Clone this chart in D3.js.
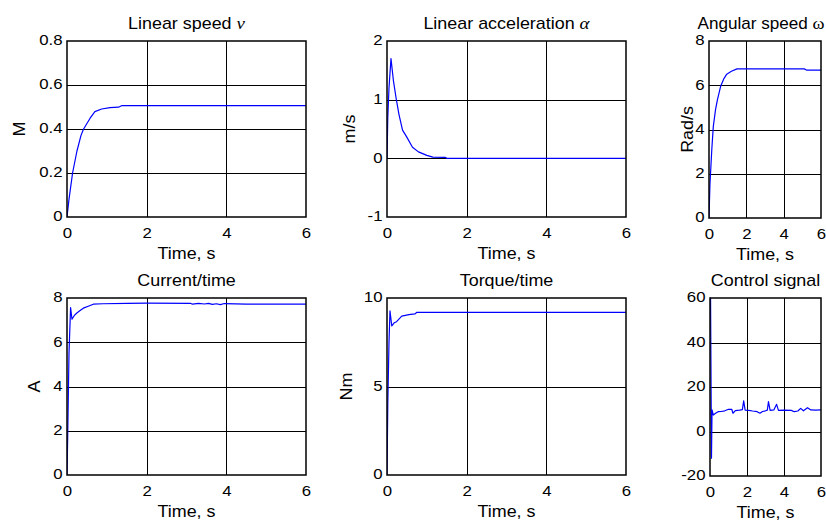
<!DOCTYPE html>
<html>
<head>
<meta charset="utf-8">
<script src="https://cdn.jsdelivr.net/npm/d3@7"></script>
<style>
	body { margin: 0; background: #fff; }
	svg { display: block; font-family: "Liberation Sans", Arial, sans-serif; }
</style>
</head>
<body>
<div id="chart"></div>
<script>
// time axis shared by all panels
const timeTicks = [0, 2, 4, 6];

// linear speed v
const speedT = [0, 0.05, 0.14, 0.25, 0.35, 0.41, 0.5, 0.58, 0.7, 0.87, 1.08, 1.29, 1.37, 6];
const speedV = [0, 0.08, 0.2, 0.3, 0.37, 0.398, 0.425, 0.449, 0.479, 0.491, 0.497, 0.499, 0.506, 0.506];
const speedTicks = [0, 0.2, 0.4, 0.6, 0.8];

// linear acceleration
const accT = [0, 0.02, 0.05, 0.1, 0.16, 0.23, 0.3, 0.39, 0.49, 0.64, 0.79, 1.0, 1.15, 1.46, 1.5, 6];
const accV = [0, 0.7, 1.2, 1.7, 1.33, 1.02, 0.75, 0.48, 0.37, 0.19, 0.11, 0.05, 0.02, 0.017, 0, 0];
const accTicks = [-1, 0, 1, 2];

// angular speed w
const angT = [0, 0.05, 0.15, 0.23, 0.35, 0.45, 0.63, 0.8, 0.95, 1.2, 1.5, 5.1, 5.25, 6];
const angV = [0, 1.5, 3.1, 4.13, 4.9, 5.34, 5.97, 6.3, 6.5, 6.63, 6.74, 6.74, 6.68, 6.68];
const angTicks = [0, 2, 4, 6, 8];

// current
const curT = [0, 0.02, 0.05, 0.09, 0.125, 0.18, 0.24, 0.32, 0.41, 0.55, 0.66, 0.9, 1.5, 2.0, 3.1, 3.15, 3.3, 3.45, 3.55, 3.65, 3.75, 3.85, 3.95, 4.5, 6];
const curV = [0, 2.0, 5.5, 7.57, 7.04, 7.2, 7.31, 7.42, 7.54, 7.64, 7.72, 7.74, 7.76, 7.77, 7.76, 7.72, 7.76, 7.73, 7.76, 7.71, 7.74, 7.7, 7.75, 7.72, 7.72];
const curTicks = [0, 2, 4, 6, 8];

// torque
const torT = [0, 0.02, 0.05, 0.075, 0.12, 0.18, 0.24, 0.37, 0.55, 0.7, 0.75, 6];
const torV = [0, 4.0, 7.5, 9.27, 8.42, 8.6, 8.66, 8.98, 9.06, 9.1, 9.19, 9.19];
const torTicks = [0, 5, 10];

// control signal
const ctrlT = [0, 0.03, 0.08, 0.11, 0.18, 0.3, 0.44, 0.6, 0.8, 1.0, 1.18, 1.24, 1.37, 1.6, 1.75, 1.82, 1.9, 2.1, 2.3, 2.55, 2.7, 2.84, 3.0, 3.1, 3.16, 3.25, 3.45, 3.6, 3.7, 4.0, 4.4, 4.55, 4.75, 4.9, 5.05, 5.27, 5.45, 5.7, 6];
const ctrlV = [60, 60, -12, 9.7, 7.4, 8.2, 8.9, 9.0, 9.3, 10, 9.9, 8.2, 9.4, 9.6, 9.8, 13.8, 9.6, 9.5, 9.2, 8.9, 8.2, 9.0, 9.3, 9.6, 13.4, 9.5, 9.7, 12.2, 9.5, 9.6, 9.5, 8.9, 9.2, 10.4, 9.3, 10.7, 9.7, 9.6, 9.7];
const ctrlTicks = [-20, 0, 20, 40, 60];

const W = 826, H = 522;
const stretch = 'scale(1.12,1)';

const panels = [
	{ box: [67, 306, 41, 217], t: speedT, v: speedV, yTicks: speedTicks,
	  title: 'Linear speed ', sym: 'ν', symItalic: true, ylabel: 'M', ylabelOff: 42 },
	{ box: [387, 626, 41, 217], t: accT, v: accV, yTicks: accTicks,
	  title: 'Linear acceleration ', sym: 'α', symItalic: true, ylabel: 'm/s', ylabelOff: 32 },
	{ box: [709, 821, 41, 218], t: angT, v: angV, yTicks: angTicks,
	  title: 'Angular speed ', sym: 'ω', symItalic: false, ylabel: 'Rad/s', ylabelOff: 16,
	  titleDx: -4, titleStretch: 'scale(1.07,1)' },
	{ box: [67, 306, 298, 475], t: curT, v: curV, yTicks: curTicks,
	  title: 'Current/time', ylabel: 'A', ylabelOff: 27 },
	{ box: [387, 626, 298, 475], t: torT, v: torV, yTicks: torTicks,
	  title: 'Torque/time', ylabel: 'Nm', ylabelOff: 35 },
	{ box: [710, 821, 298, 476], t: ctrlT, v: ctrlV, yTicks: ctrlTicks,
	  title: 'Control signal', ylabel: null }
];

const svg = d3.select('#chart').append('svg')
	.attr('width', W)
	.attr('height', H);

svg.append('rect').attr('width', W).attr('height', H).attr('fill', '#fff');

function drawPanel(p, idx) {
	const [x0, x1, y0, y1] = p.box;
	const w = x1 - x0, h = y1 - y0;
	const x = d3.scaleLinear().domain([0, 6]).range([0, w]);
	const yExt = d3.extent(p.yTicks);
	const y = d3.scaleLinear().domain(yExt).range([h, 0]);

	const g = svg.append('g').attr('transform', 'translate(' + x0 + ',' + y0 + ')');

	// grid lines
	g.append('g')
		.selectAll('line.gx')
		.data(timeTicks.slice(1, -1))
		.join('line')
		.attr('x1', d => Math.round(x(d)) + 0.5).attr('x2', d => Math.round(x(d)) + 0.5)
		.attr('y1', 0).attr('y2', h)
		.attr('stroke', '#000').attr('stroke-width', 1);
	g.append('g')
		.selectAll('line.gy')
		.data(p.yTicks.slice(1, -1))
		.join('line')
		.attr('y1', d => Math.round(y(d)) + 0.5).attr('y2', d => Math.round(y(d)) + 0.5)
		.attr('x1', 0).attr('x2', w)
		.attr('stroke', '#000').attr('stroke-width', 1);

	// data line
	const clipId = 'clip' + idx;
	g.append('clipPath').attr('id', clipId)
		.append('rect').attr('x', 0).attr('y', -1).attr('width', w).attr('height', h + 2);
	const pts = p.t.map((t, i) => [t, p.v[i]]);
	g.append('path')
		.datum(pts)
		.attr('clip-path', 'url(#' + clipId + ')')
		.attr('fill', 'none')
		.attr('stroke', '#0000ff')
		.attr('stroke-width', 1.2)
		.attr('stroke-linejoin', 'round')
		.attr('d', d3.line().x(d => x(d[0])).y(d => y(d[1])));

	// axes (labels only)
	const xAxis = g.append('g')
		.attr('transform', 'translate(0,' + h + ')')
		.call(d3.axisBottom(x).tickValues(timeTicks).tickFormat(d => String(d)).tickSize(0).tickPadding(10));
	const yAxis = g.append('g')
		.call(d3.axisLeft(y).tickValues(p.yTicks).tickFormat(d => String(d)).tickSize(0).tickPadding(4));
	[xAxis, yAxis].forEach(a => {
		a.select('.domain').remove();
		a.selectAll('text')
			.attr('font-family', '"Liberation Sans", Arial, sans-serif')
			.attr('font-size', 15)
			.attr('fill', '#000')
			.attr('transform', stretch);
	});
	yAxis.selectAll('text').attr('dy', '0.26em');

	// frame
	g.append('rect')
		.attr('x', 0).attr('y', 0).attr('width', w).attr('height', h)
		.attr('fill', 'none').attr('stroke', '#000').attr('stroke-width', 1.5);

	// title
	const title = g.append('text')
		.attr('transform', 'translate(' + (w / 2 + (p.titleDx || 0)) + ',-12) ' + (p.titleStretch || stretch))
		.attr('text-anchor', 'middle')
		.attr('font-size', 16)
		.text(p.title);
	if (p.sym) {
		title.append('tspan')
			.attr('font-family', '"Liberation Serif", "DejaVu Serif", serif')
			.attr('font-style', p.symItalic ? 'italic' : 'normal')
			.attr('font-size', 17)
			.text(p.sym);
	}

	// x label
	g.append('text')
		.attr('transform', 'translate(' + (w / 2) + ',' + (h + 42) + ') ' + stretch)
		.attr('text-anchor', 'middle')
		.attr('font-size', 16)
		.text('Time, s');

	// y label
	if (p.ylabel) {
		g.append('text')
			.attr('transform', 'translate(' + (-p.ylabelOff) + ',' + (h / 2) + ') rotate(-90) ' + stretch)
			.attr('text-anchor', 'middle')
			.attr('font-size', 16)
			.text(p.ylabel);
	}
}

panels.forEach(drawPanel);
</script>
</body>
</html>
